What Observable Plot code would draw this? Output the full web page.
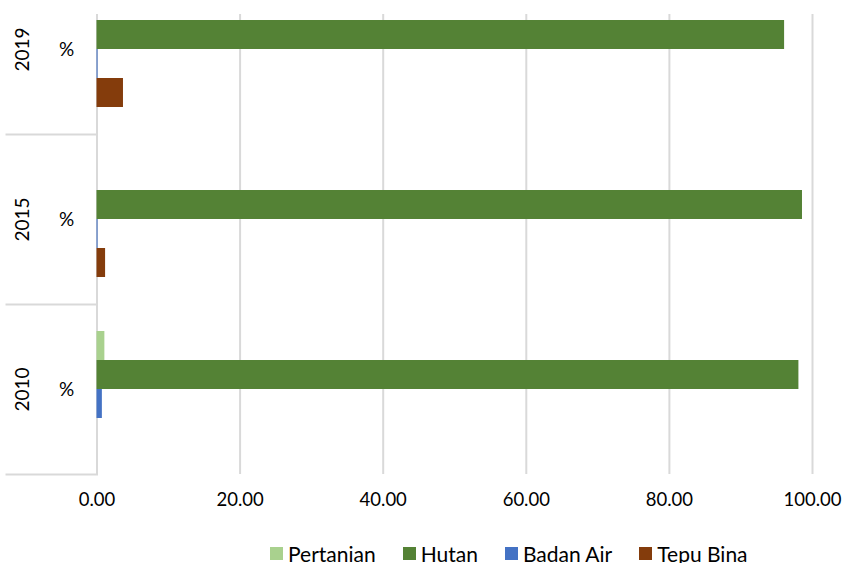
<!DOCTYPE html>
<html>
<head>
<meta charset="utf-8">
<script src="https://cdn.jsdelivr.net/npm/d3@7"></script>
<script src="https://cdn.jsdelivr.net/npm/@observablehq/plot@0.6"></script>
<style>
  html, body { margin: 0; padding: 0; background: #fff; }
  body { width: 846px; height: 563px; overflow: hidden; font-family: Lato, "Open Sans", sans-serif; color: #000; }
  #chart svg { display: block; margin-top: 14px; overflow: hidden; }
  #legend { margin-left: 270px; margin-top: 12px; }
  .lg-swatches { display: flex !important; align-items: center; font-family: Lato, sans-serif !important; font-size: 21px !important; color: #000 !important; min-height: 0 !important; margin: 0 !important; }
  .lg-swatch { margin-right: 27px !important; }
  .lg-swatch > svg { margin-right: 5px !important; }
</style>
</head>
<body>
<div id="chart"></div>
<div id="legend"></div>
<script>
const years = ["2019", "2015", "2010"];
const series = ["Pertanian", "Hutan", "Badan Air", "Tepu Bina"];
const colors = ["#A9D18E", "#548235", "#4472C4", "#843C0C"];
const pertanian = [0, 0, 1.1];
const hutan = [96.1, 98.6, 98.1];
const badanAir = [0.15, 0.15, 0.75];
const tepuBina = [3.7, 1.2, 0];
const xTicks = [0, 20, 40, 60, 80, 100];
const unitLabel = "%";

const valuesBySeries = [pertanian, hutan, badanAir, tepuBina];
const rows = [];
years.forEach((yr, i) => {
  series.forEach((s, j) => rows.push({year: yr, series: s, value: valuesBySeries[j][i]}));
});

const chart = Plot.plot({
  width: 846,
  height: 515,
  marginLeft: 96.5,
  marginRight: 34,
  marginTop: 0,
  marginBottom: 55,
  style: {fontFamily: "Lato, sans-serif", fontSize: "18.5px", color: "#000", background: "#fff"},
  x: {domain: [0, 100], axis: null},
  y: {domain: series, paddingInner: 0, paddingOuter: 0.9, align: 0.5, axis: null},
  fy: {domain: years, range: [-50.8, 460], padding: 0, axis: null},
  color: {domain: series, range: colors},
  marks: [
    Plot.ruleX(xTicks, {stroke: "#d9d9d9", strokeWidth: 2}),
    Plot.frame({anchor: "bottom", stroke: "#d9d9d9", strokeWidth: 2, insetLeft: -90.5, insetRight: 715.5}),
    Plot.barX(rows, {x: "value", y: "series", fy: "year", fill: "series"}),
    Plot.text(years, {fy: d => d, text: d => d, frameAnchor: "left", textAnchor: "middle", lineAnchor: "middle", dx: -74, rotate: -90, fontSize: 19}),
    Plot.text(years, {fy: d => d, text: () => unitLabel, frameAnchor: "left", textAnchor: "middle", lineAnchor: "middle", dx: -30.5, fontSize: 19}),
    Plot.axisX(xTicks, {tickSize: 0, tickPadding: 18, tickFormat: d3.format(".2f"), fontSize: 18.5, label: null})
  ]
});
document.getElementById("chart").appendChild(chart);

const legend = Plot.legend({
  color: {domain: series, range: colors},
  swatchSize: 13,
  className: "lg"
});
document.getElementById("legend").appendChild(legend);
</script>
</body>
</html>
